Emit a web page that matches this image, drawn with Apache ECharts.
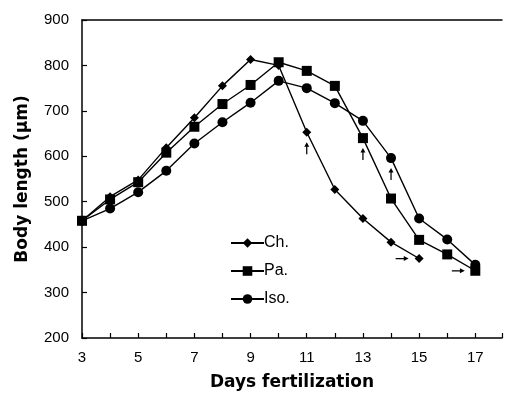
<!DOCTYPE html>
<html>
<head>
<meta charset="utf-8">
<script src="https://cdn.jsdelivr.net/npm/echarts@6/dist/echarts.min.js"></script>
<style>
  html, body { margin: 0; padding: 0; background: #fff; }
  #chart { width: 505px; height: 396px; }
</style>
</head>
<body>
<div id="chart"></div>
<script>
// days after fertilization
const days = [3, 4, 5, 6, 7, 8, 9, 10, 11, 12, 13, 14, 15, 16, 17]
// body length (um)
const chValues = [458, 511, 548, 619, 685, 755, 813, 800, 653, 527, 463, 411, 375]
const paValues = [458, 505, 543, 608, 665, 715, 757, 807, 788, 755, 640, 507, 416, 384, 348]
const isoValues = [458, 485, 521, 568, 628, 675, 718, 766, 750, 717, 678, 596, 463, 417, 361]
// arrow marks: [series, day]
const upArrows = { 'Ch.': [11], 'Pa.': [13], 'Iso.': [14] }
const rightArrows = { 'Ch.': [15], 'Pa.': [17] }

const FONT = 'Liberation Sans'
const NAME_FONT = 'DejaVu Sans'
const UP = 'path://M5,0 L9,6 L6,6 L6,16 L4,16 L4,6 L1,6 Z'
const RIGHT = 'path://M0,4 L10,4 L10,1 L16,5 L10,9 L10,6 L0,6 Z'

const toPairs = (vals) => vals.map((v, i) => [days[i], v])

const arrowMarks = (name, vals) => {
  const list = []
  ;(upArrows[name] || []).forEach(d => {
    list.push({
      coord: [d, vals[days.indexOf(d)]],
      symbol: UP, symbolSize: [5, 12], symbolOffset: [0, 16]
    })
  })
  ;(rightArrows[name] || []).forEach(d => {
    list.push({
      coord: [d, vals[days.indexOf(d)]],
      symbol: RIGHT, symbolSize: [13, 5], symbolOffset: [-17, 0]
    })
  })
  return {
    silent: true,
    label: { show: false },
    itemStyle: { color: '#000' },
    data: list
  }
}

const makeSeries = (name, vals, symbol, size) => ({
  name,
  type: 'line',
  data: toPairs(vals),
  symbol,
  symbolSize: size,
  showSymbol: true,
  lineStyle: { color: '#000', width: 1.4 },
  itemStyle: { color: '#000' },
  markPoint: arrowMarks(name, vals),
  z: 3
})

const chart = echarts.init(document.getElementById('chart'))
chart.setOption({
  animation: false,
  grid: { left: 82, right: 0, top: 20, bottom: 58 },
  legend: {
    orient: 'vertical',
    left: 225, top: 230,
    itemWidth: 33, itemHeight: 12, itemGap: 12,
    textStyle: { fontFamily: FONT, fontSize: 16, color: '#000', padding: [0, 0, 0, -5] },
    data: ['Ch.', 'Pa.', 'Iso.']
  },
  xAxis: [
    {
      type: 'value',
      min: 3, max: 17.95, interval: 1,
      name: 'Days fertilization',
      nameLocation: 'middle',
      nameGap: 36,
      nameTextStyle: { fontFamily: NAME_FONT, fontSize: 17, fontWeight: 'bold', color: '#000' },
      axisLine: { lineStyle: { color: '#000', width: 1.5 } },
      axisTick: { inside: true, length: 5, lineStyle: { color: '#000', width: 1.2 } },
      axisLabel: {
        margin: 12, fontFamily: FONT, fontSize: 15, color: '#000',
        formatter: v => (v % 2 === 1 && v <= 17 ? String(v) : '')
      },
      splitLine: { show: false }
    },
    {
      // top frame line only
      type: 'value',
      position: 'top',
      min: 3, max: 17.95,
      axisLine: { show: true, lineStyle: { color: '#000', width: 1.5 } },
      axisTick: { show: false },
      axisLabel: { show: false },
      splitLine: { show: false }
    }
  ],
  yAxis: {
    type: 'value',
    min: 200, max: 900, interval: 100,
    name: 'Body length (μm)',
    nameLocation: 'middle',
    nameGap: 51,
    nameTextStyle: { fontFamily: NAME_FONT, fontSize: 17, fontWeight: 'bold', color: '#000' },
    axisLine: { show: true, lineStyle: { color: '#000', width: 1.5 } },
    axisTick: { show: true, inside: true, length: 5, lineStyle: { color: '#000', width: 1.2 } },
    axisLabel: { margin: 13, fontFamily: FONT, fontSize: 15, color: '#000' },
    splitLine: { show: false }
  },
  series: [
    makeSeries('Ch.', chValues, 'diamond', 9),
    makeSeries('Pa.', paValues, 'rect', 10),
    makeSeries('Iso.', isoValues, 'circle', 10)
  ]
})
</script>
</body>
</html>
